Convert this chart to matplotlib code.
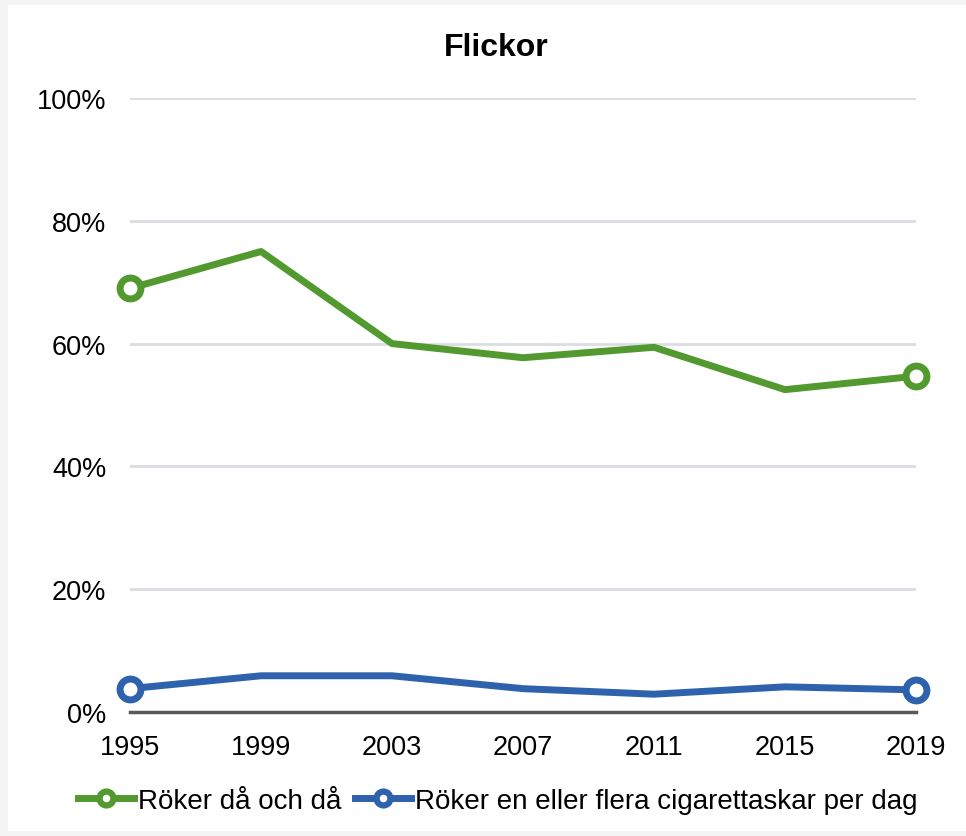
import matplotlib
matplotlib.use("Agg")
import matplotlib.pyplot as plt
from matplotlib.lines import Line2D
from matplotlib.ticker import FuncFormatter

plt.rcParams['font.family'] = ['Liberation Sans', 'DejaVu Sans']

years = [1995, 1999, 2003, 2007, 2011, 2015, 2019]
ocasional = [69, 75, 60, 57.7, 59.4, 52.5, 54.7]
daily = [3.8, 5.9, 5.9, 3.8, 2.9, 4.1, 3.6]
series_labels = ["Röker då och då", "Röker en eller flera cigarettaskar per dag"]
title = "Flickor"
yticks = [0, 20, 40, 60, 80, 100]

green = "#529a2f"
blue = "#2f62ad"

fig = plt.figure(figsize=(9.66, 8.37), dpi=100)
fig.patch.set_facecolor("#f4f4f4")
bg = fig.add_axes([8/966, 1-832/837, 958/966, 826/837], zorder=-10)
bg.set_facecolor("white")
bg.set_xticks([]); bg.set_yticks([])
for s in bg.spines.values():
    s.set_visible(False)

ax = fig.add_axes([130/966, 1-713/837, 786/966, 614/837], zorder=1)
ax.set_facecolor("none")

handles = []
for vals, col, lab in [(ocasional, green, series_labels[0]), (daily, blue, series_labels[1])]:
    ax.plot(years, vals, color=col, lw=5, marker="o", markevery=[0, len(vals)-1],
            ms=15, mfc="white", mec=col, mew=5, clip_on=False, zorder=3)
    handles.append(Line2D([], [], color=col, lw=5, marker="o", ms=10, mfc="white",
                          mec=col, mew=4.5, label=lab))

ax.set_xlim(1995, 2019)
ax.set_ylim(0, 100)
ax.set_xticks(years)
ax.set_yticks(yticks)
ax.yaxis.set_major_formatter(FuncFormatter(lambda v, p: f"{int(v)}%"))
ax.grid(axis="y", color="#dadde1", lw=2)
ax.set_axisbelow(True)
for s in ["top", "right", "left"]:
    ax.spines[s].set_visible(False)
ax.spines["bottom"].set_color("#595959")
ax.spines["bottom"].set_linewidth(2.5)
ax.spines["bottom"].set_zorder(2)
ax.tick_params(axis="both", length=0, labelsize=19.5, colors="black")
ax.tick_params(axis="y", pad=17)
ax.tick_params(axis="x", pad=16)

fig.text(496/966, 1-56/837, title, ha="center", va="baseline", fontsize=23, fontweight="bold")

leg = fig.legend(handles=handles, loc="center", bbox_to_anchor=(498/966, 1-802/837),
                 ncol=2, frameon=False, fontsize=20, numpoints=1,
                 handlelength=2.0, handletextpad=0.15, columnspacing=0.5,
                 borderpad=0, borderaxespad=0)

fig.savefig("out.png", dpi=100, facecolor=fig.get_facecolor())
